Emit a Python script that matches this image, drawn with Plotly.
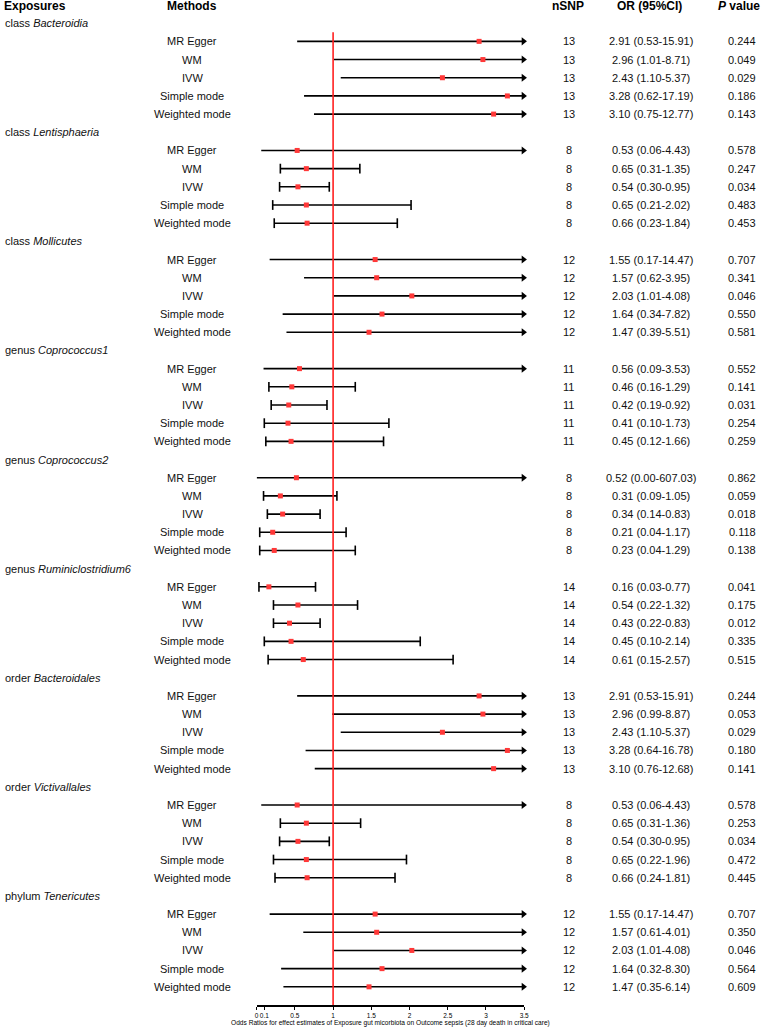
import plotly.graph_objects as go

# ---------------- data ----------------
exp_rank = ["class", "class", "class", "genus", "genus", "genus", "order", "order", "phylum"]
exp_name = ["Bacteroidia", "Lentisphaeria", "Mollicutes", "Coprococcus1", "Coprococcus2",
            "Ruminiclostridium6", "Bacteroidales", "Victivallales", "Tenericutes"]
methods = ["MR Egger", "WM", "IVW", "Simple mode", "Weighted mode"]
nsnp = [13, 8, 12, 11, 8, 14, 13, 8, 12]

or_vals = [2.91, 2.96, 2.43, 3.28, 3.10,
           0.53, 0.65, 0.54, 0.65, 0.66,
           1.55, 1.57, 2.03, 1.64, 1.47,
           0.56, 0.46, 0.42, 0.41, 0.45,
           0.52, 0.31, 0.34, 0.21, 0.23,
           0.16, 0.54, 0.43, 0.45, 0.61,
           2.91, 2.96, 2.43, 3.28, 3.10,
           0.53, 0.65, 0.54, 0.65, 0.66,
           1.55, 1.57, 2.03, 1.64, 1.47]
ci_low = [0.53, 1.01, 1.10, 0.62, 0.75,
          0.06, 0.31, 0.30, 0.21, 0.23,
          0.17, 0.62, 1.01, 0.34, 0.39,
          0.09, 0.16, 0.19, 0.10, 0.12,
          0.00, 0.09, 0.14, 0.04, 0.04,
          0.03, 0.22, 0.22, 0.10, 0.15,
          0.53, 0.99, 1.10, 0.64, 0.76,
          0.06, 0.31, 0.30, 0.22, 0.24,
          0.17, 0.61, 1.01, 0.32, 0.35]
ci_high = [15.91, 8.71, 5.37, 17.19, 12.77,
           4.43, 1.35, 0.95, 2.02, 1.84,
           14.47, 3.95, 4.08, 7.82, 5.51,
           3.53, 1.29, 0.92, 1.73, 1.66,
           607.03, 1.05, 0.83, 1.17, 1.29,
           0.77, 1.32, 0.83, 2.14, 2.57,
           15.91, 8.87, 5.37, 16.78, 12.68,
           4.43, 1.36, 0.95, 1.96, 1.81,
           14.47, 4.01, 4.08, 8.30, 6.14]
p_vals = ["0.244", "0.049", "0.029", "0.186", "0.143",
          "0.578", "0.247", "0.034", "0.483", "0.453",
          "0.707", "0.341", "0.046", "0.550", "0.581",
          "0.552", "0.141", "0.031", "0.254", "0.259",
          "0.862", "0.059", "0.018", "0.118", "0.138",
          "0.041", "0.175", "0.012", "0.335", "0.515",
          "0.244", "0.053", "0.029", "0.180", "0.141",
          "0.578", "0.253", "0.034", "0.472", "0.445",
          "0.707", "0.350", "0.046", "0.564", "0.609"]

x_ticks = [0, 0.1, 0.5, 1, 1.5, 2, 2.5, 3, 3.5]
x_max = 3.5
null_value = 1
axis_title = "Odds Ratios for effect estimates of Exposure gut micorbiota on Outcome sepsis (28 day death in critical care)"

# ---------------- layout helpers ----------------
W, H = 768, 1027
FONT = "Liberation Sans, Arial, sans-serif"
n_meth = len(methods)

def row_y(i):
    return -i

ann = []
line_x, line_y = [], []
cap_x, cap_y = [], []
arrow_x, arrow_y = [], []
pt_x, pt_y = [], []

hdr = dict(xref="paper", yref="y", showarrow=False, font=dict(family=FONT, size=12, color="black"))
hy = row_y(0.05)
ann.append(dict(hdr, x=0.0, y=hy, text="<b>Exposures</b>", xanchor="left"))
ann.append(dict(hdr, x=192 / W, y=hy, text="<b>Methods</b>", xanchor="center"))
ann.append(dict(hdr, x=571 / W, y=hy, text="<b>nSNP</b>", xanchor="center"))
ann.append(dict(hdr, x=653 / W, y=hy, text="<b>OR (95%CI)</b>", xanchor="center"))
ann.append(dict(hdr, x=767 / W, y=hy, text="<b><i>P</i> value</b>", xanchor="right"))

txt = dict(xref="paper", yref="y", showarrow=False, font=dict(family=FONT, size=11, color="#111111"))

for g in range(len(exp_name)):
    gr = 1 + g * (n_meth + 1)
    ann.append(dict(txt, x=1 / W, y=row_y(gr), text=f"{exp_rank[g]} <i>{exp_name[g]}</i>", xanchor="left"))
    for m in range(n_meth):
        k = g * n_meth + m
        r = gr + 1 + m
        y = row_y(r)
        ann.append(dict(txt, x=192 / W, y=y, text=methods[m], xanchor="center"))
        ann.append(dict(txt, x=572 / W, y=y, text=str(nsnp[g]), xanchor="center"))
        ann.append(dict(txt, x=655 / W, y=y,
                        text=f"{or_vals[k]:.2f} ({ci_low[k]:.2f}-{ci_high[k]:.2f})", xanchor="center"))
        ann.append(dict(txt, x=747 / W, y=y, text=p_vals[k], xanchor="center"))
        lo, hi = ci_low[k], ci_high[k]
        if hi > x_max:
            line_x += [lo, x_max - 0.01, None]
            line_y += [y, y, None]
            arrow_x.append(x_max - 0.01)
            arrow_y.append(y)
        else:
            line_x += [lo, hi, None]
            line_y += [y, y, None]
            cap_x += [lo, hi]
            cap_y += [y, y]
        pt_x.append(or_vals[k])
        pt_y.append(y)

n_rows = 1 + len(exp_name) * (n_meth + 1)  # 55

fig = go.Figure()
fig.add_trace(go.Scatter(x=line_x, y=line_y, mode="lines",
                         line=dict(color="black", width=1.6), hoverinfo="skip", cliponaxis=False))
fig.add_trace(go.Scatter(x=cap_x, y=cap_y, mode="markers",
                         marker=dict(symbol="line-ns", size=7, line=dict(color="black", width=1.6)),
                         hoverinfo="skip", cliponaxis=False))
fig.add_trace(go.Scatter(x=arrow_x, y=arrow_y, mode="markers",
                         marker=dict(symbol="triangle-right", size=7, color="black", line=dict(width=0)),
                         hoverinfo="skip", cliponaxis=False))
fig.add_trace(go.Scatter(x=pt_x, y=pt_y, mode="markers",
                         marker=dict(symbol="square", size=5, color="#FF3838", line=dict(width=0)),
                         hoverinfo="skip", cliponaxis=False))

fig.add_shape(type="line", xref="x", yref="y", x0=null_value, x1=null_value,
              y0=row_y(1.5), y1=row_y(n_rows), line=dict(color="#FF2020", width=1.6), layer="above")

fig.update_layout(
    width=W, height=H,
    margin=dict(l=0, r=0, t=0, b=22),
    paper_bgcolor="white", plot_bgcolor="white",
    showlegend=False,
    annotations=ann,
    xaxis=dict(domain=[257 / W, 527 / W], range=[0, x_max], tickvals=x_ticks,
               ticktext=[f"{t:g}" for t in x_ticks], tickangle=0,
               showgrid=False, zeroline=False, showline=True, linecolor="black", linewidth=1.5,
               ticks="outside", ticklen=3, tickwidth=1, tickcolor="black",
               tickfont=dict(family=FONT, size=6.5, color="black"),
               title=dict(text=axis_title, font=dict(family=FONT, size=6.6, color="black"), standoff=1)),
    yaxis=dict(range=[-n_rows, 0.275], visible=False, showgrid=False, zeroline=False),
)

fig.write_html("out.html", config={"displayModeBar": False},
               post_script="document.body.style.margin='0';document.body.style.overflow='hidden';")
